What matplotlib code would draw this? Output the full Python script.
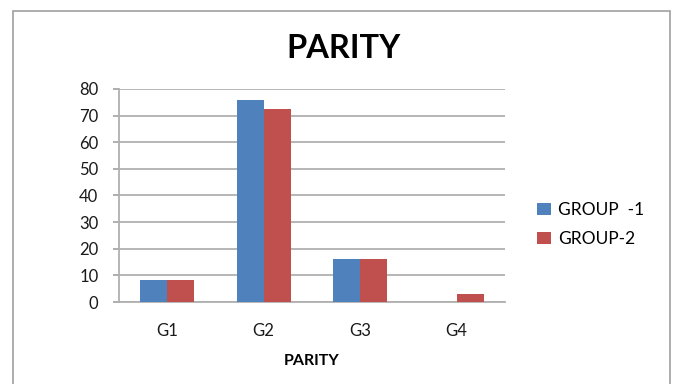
import numpy as np
import matplotlib
matplotlib.use("Agg")
import matplotlib.pyplot as plt
from matplotlib.patches import Rectangle

categories = ["G1", "G2", "G3", "G4"]
group1 = [8.3, 76.0, 16.2, 0.0]
group2 = [8.3, 72.5, 16.2, 3.0]
series_names = ["GROUP  -1", "GROUP-2"]

plt.rcParams['font.family'] = ['Lato', 'DejaVu Sans']

fig = plt.figure(figsize=(6.78, 3.84), dpi=100)
ax = fig.add_axes([0.1755, 0.2135, 0.569, 0.555])

x = np.arange(len(categories))
w = 0.28
ax.bar(x - w / 2, group1, w, color='#4F81BD', label=series_names[0], zorder=3)
ax.bar(x + w / 2, group2, w, color='#C0504D', label=series_names[1], zorder=3)

ax.set_xlim(-0.5, 3.5)
ax.set_ylim(0, 80)
ax.set_yticks(range(0, 81, 10))
ax.set_xticks(x)
ax.set_xticklabels(categories, fontsize=12)
ax.tick_params(axis='y', labelsize=12, length=4.3, color='#a8a8a8', width=1.3, pad=10.5,
               colors='#1a1a1a')
ax.tick_params(axis='y', color='#a8a8a8')
ax.tick_params(axis='x', length=0, pad=15, colors='#1a1a1a')
ax.yaxis.grid(True, color='#b0b0b0', linewidth=1.3, zorder=0)
for s in ['top', 'right']:
    ax.spines[s].set_visible(False)
ax.spines['left'].set_color('#b0b0b0')
ax.spines['left'].set_linewidth(1.3)
ax.spines['bottom'].set_color('#b0b0b0')
ax.spines['bottom'].set_linewidth(1.3)
ax.set_xlabel('PARITY', fontsize=11.5, fontweight='bold', labelpad=11)

fig.text(0.507, 0.873, 'PARITY', fontsize=23.5, fontweight='bold', ha='center', va='center')

fig.legend(loc='upper left', bbox_to_anchor=(0.792, 1 - 202 / 384), frameon=False,
           fontsize=12.5, handlelength=0.8, handleheight=0.63, labelspacing=0.75,
           handletextpad=0.4, borderpad=0, borderaxespad=0)

fig.patches.append(Rectangle((0.019, -0.1), 0.969, 1.071, transform=fig.transFigure,
                             fill=False, edgecolor='#a0a0a0', linewidth=1.2))

fig.savefig('out.png', dpi=100)
